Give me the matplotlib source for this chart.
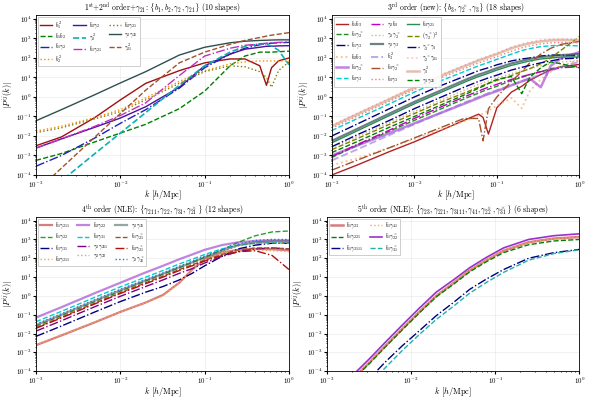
import numpy as np
import matplotlib
matplotlib.use("Agg")
import matplotlib.pyplot as plt

plt.rcParams["font.family"] = "serif"
plt.rcParams["font.serif"] = ["cmr10", "DejaVu Serif"]
plt.rcParams["mathtext.fontset"] = "cm"
plt.rcParams["axes.formatter.use_mathtext"] = True
plt.rcParams["axes.unicode_minus"] = False

# ---- panel 1: 1st+2nd order + gamma_21 (log10 |P|) ----
k1 = [0.001, 0.002, 0.005, 0.01, 0.02, 0.05, 0.1, 0.2, 0.3, 0.45, 0.54, 0.62, 0.75, 1.0]
labels1 = [r"$b_1^2$", r"$b_1 b_2$", r"$b_1\gamma_2$", r"$b_2^2$", r"$b_2\gamma_2$",
           r"$\gamma_2^2$", r"$b_1\gamma_{21}$", r"$b_2\gamma_{21}$", r"$\gamma_2\gamma_{21}$",
           r"$\gamma_{21}^2$"]
logP1 = [
    [-2.5, -2.05, -1.05, -0.15, 0.7, 1.35, 1.75, 1.95, 1.95, 1.6, 0.6, 1.5, 1.85, 2.0],
    [-3.25, -2.9, -2.3, -1.85, -1.4, -0.6, 0.3, 1.6, 2.1, 2.3, 2.3, 2.3, 2.32, 2.35],
    [-3.55, -3.0, -2.1, -1.35, -0.65, 0.45, 1.5, 2.2, 2.5, 2.68, 2.73, 2.76, 2.78, 2.8],
    [-1.75, -1.5, -1.05, -0.65, -0.05, 0.8, 1.35, 1.7, 1.8, 1.85, 1.85, 1.85, 1.85, 1.85],
    [-2.62, -2.15, -1.55, -1.08, -0.5, 0.5, 1.6, 2.2, 2.45, 2.55, 2.6, 2.6, 2.62, 2.63],
    [-5.3, -4.3, -2.9, -1.85, -0.8, 0.6, 1.6, 2.3, 2.6, 2.72, 2.7, 2.62, 2.4, 1.65],
    [-2.62, -2.15, -1.5, -0.95, -0.3, 1.1, 2.1, 2.5, 2.65, 2.72, 2.76, 2.78, 2.8, 2.83],
    [-1.83, -1.58, -1.12, -0.75, -0.15, 0.7, 1.3, 1.6, 1.55, 1.3, 1.0, 0.5, 1.35, 1.8],
    [-1.22, -0.65, 0.12, 0.72, 1.3, 2.15, 2.55, 2.78, 2.86, 2.9, 2.91, 2.92, 2.93, 2.93],
    [-4.85, -3.65, -2.05, -0.85, 0.35, 1.75, 2.3, 2.7, 2.9, 3.05, 3.12, 3.17, 3.22, 3.3],
]
styles1 = [("#a01010", "-", 1.0, 1), ("green", "--", 1.0, 1), ("#2020c0", "-.", 1.0, 1),
           ("darkorange", ":", 1.0, 1), ("#4b10a0", "-", 1.0, 1), ("#10b0b0", "--", 1.2, 1),
           ("#c030c0", "-.", 1.0, 1), ("olive", ":", 1.0, 1), ("darkslategray", "-", 1.0, 1),
           ("sienna", "--", 1.0, 1)]

# ---- panel 2: 3rd order (new) ----
k2 = [0.001, 0.002, 0.005, 0.01, 0.02, 0.04, 0.06, 0.068, 0.079, 0.1, 0.15, 0.2,
      0.25, 0.34, 0.45, 0.6, 1.0]
labels2 = [r"$b_1 b_3$", r"$b_1\gamma_2^\times$", r"$b_1\gamma_3$", r"$b_2 b_3$",
           r"$b_2\gamma_2^\times$", r"$b_2\gamma_3$", r"$\gamma_2 b_3$",
           r"$\gamma_2\gamma_2^\times$", r"$\gamma_2\gamma_3$", r"$b_3^2$",
           r"$b_3\gamma_2^\times$", r"$b_3\gamma_3$", r"$b_3\gamma_{21}$",
           r"$(\gamma_2^\times)^2$", r"$\gamma_2^\times\gamma_3$", r"$\gamma_2^\times\gamma_{21}$",
           r"$\gamma_3^2$", r"$\gamma_3\gamma_{21}$"]
logP2 = [
    [-4.0, -3.5, -2.8, -2.3, -1.75, -1.2, -0.88, -1.05, -1.9, -0.55, 0.25, 0.55, 0.85, 1.15, 1.4, 1.55, 1.67],
    [-3.1, -2.5, -1.75, -1.2, -0.65, -0.1, 0.2, 0.3, 0.4, 0.55, 0.85, 1.0, 1.15, 1.3, 1.45, 1.55, 1.6],
    [-2.0, -1.4, -0.6, 0.0, 0.55, 1.05, 1.35, 1.42, 1.5, 1.65, 1.85, 1.95, 2.0, 2.1, 2.15, 2.15, 2.1],
    [-3.5, -3.15, -2.6, -2.15, -1.7, -1.25, -0.95, -0.85, -0.7, -0.45, -0.05, -0.58, 0.3, 0.9, 1.3, 1.6, 1.9],
    [-3.0, -2.5, -1.85, -1.35, -0.85, -0.35, -0.05, 0.05, 0.15, 0.3, 0.6, 0.8, 0.95, 0.5, 1.6, 2.0, 2.3],
    [-1.72, -1.12, -0.35, 0.25, 0.8, 1.3, 1.6, 1.68, 1.78, 1.93, 2.2, 2.38, 2.48, 2.58, 2.63, 2.65, 2.62],
    [-3.05, -2.45, -1.7, -1.1, -0.55, 0.0, 0.3, 0.4, 0.5, 0.65, 0.9, 1.05, 1.15, 1.3, 1.4, 1.5, 1.55],
    [-2.6, -2.05, -1.3, -0.75, -0.2, 0.35, 0.65, 0.72, 0.82, 0.97, 1.2, 1.35, 1.45, 1.6, 1.7, 1.8, 1.85],
    [-2.25, -1.65, -0.85, -0.25, 0.3, 0.85, 1.15, 1.22, 1.32, 1.48, 1.72, 1.85, 1.95, 2.05, 2.1, 2.15, 2.2],
    [-3.25, -2.7, -1.95, -1.4, -0.85, -0.3, 0.0, 0.08, 0.2, 0.35, 0.6, 0.8, 0.95, 1.15, 1.35, 1.55, 1.8],
    [-3.75, -3.25, -2.6, -2.1, -1.6, -1.1, -1.1, -2.25, -0.6, 0.0, 0.8, 1.3, 1.75, 2.2, 2.5, 2.7, 2.85],
    [-1.6, -1.0, -0.22, 0.38, 0.95, 1.45, 1.75, 1.82, 1.92, 2.07, 2.35, 2.52, 2.62, 2.72, 2.78, 2.8, 2.78],
    [-2.35, -1.75, -0.95, -0.35, 0.2, 0.75, 1.05, 1.12, 1.22, 1.38, 1.62, 1.75, 1.85, 1.95, 2.0, 2.05, 2.05],
    [-2.7, -2.15, -1.4, -0.85, -0.3, 0.2, 0.5, 0.6, 0.7, 0.85, 1.1, 1.3, 1.45, 1.7, 2.0, 2.4, 3.1],
    [-2.55, -1.95, -1.2, -0.6, -0.05, 0.5, 0.8, 0.88, 0.98, 1.12, 1.38, 1.52, 1.62, 1.75, 1.85, 1.95, 2.0],
    [-1.45, -0.85, -0.07, 0.53, 1.1, 1.62, 1.92, 2.0, 2.1, 2.25, 2.55, 2.72, 2.82, 2.92, 2.98, 3.0, 2.95],
    [-1.5, -0.9, -0.12, 0.48, 1.05, 1.57, 1.87, 1.95, 2.05, 2.2, 2.5, 2.65, 2.75, 2.85, 2.9, 2.92, 2.9],
    [-2.85, -2.3, -1.55, -1.0, -0.45, 0.1, 0.45, 0.55, 0.7, 0.9, 1.05, 0.17, 1.0, 1.5, 1.8, 1.7, 1.5],
]
styles2 = [("firebrick", "-", 1.0, 1), ("forestgreen", "--", 1.0, 1), ("navy", "-.", 1.0, 1),
           ("sandybrown", ":", 1.3, 0.7), ("darkorchid", "-", 1.8, 0.6), ("darkturquoise", "--", 1.0, 1),
           ("m", "-.", 1.0, 1), ("tan", ":", 1.0, 1), ("darkslategray", "-", 1.6, 0.7),
           ("mediumpurple", "--", 1.4, 0.6), ("sienna", "-.", 1.0, 1), ("lightcoral", ":", 1.0, 1),
           ("seagreen", "-", 1.0, 1), ("olive", "--", 1.0, 1), ("darkblue", "-.", 1.0, 1),
           ("pink", ":", 1.2, 1), ("#c8825f", "-", 1.8, 0.5), ("green", "--", 1.0, 1)]

# ---- panel 3: 4th order (NLE) ----
k3 = [0.001, 0.002, 0.005, 0.01, 0.02, 0.032, 0.05, 0.071, 0.1, 0.16, 0.25, 0.4, 0.63, 1.0]
labels3 = [r"$b_1\gamma_{211}$", r"$b_1\gamma_{22}$", r"$b_1\gamma_{31}$", r"$b_2\gamma_{211}$",
           r"$b_2\gamma_{22}$", r"$b_2\gamma_{31}$", r"$\gamma_2\gamma_{211}$", r"$\gamma_2\gamma_{22}$",
           r"$\gamma_2\gamma_{31}$", r"$b_1\gamma_{21}^\times$", r"$b_2\gamma_{21}^\times$",
           r"$\gamma_2\gamma_{21}^\times$"]
logP3 = [
    [-2.62, -2.1, -1.4, -0.85, -0.35, 0.05, 0.7, 1.4, 1.95, 2.3, 2.45, 2.5, 2.48, 2.42],
    [-1.6, -1.05, -0.3, 0.25, 0.8, 1.15, 1.5, 1.78, 2.05, 2.45, 2.85, 3.2, 3.4, 3.45],
    [-2.15, -1.6, -0.85, -0.3, 0.2, 0.5, 0.85, 1.2, 1.6, 2.1, 2.5, 2.7, 2.8, 2.8],
    [-2.6, -2.08, -1.38, -0.85, -0.35, 0.0, 0.7, 1.4, 1.92, 2.28, 2.42, 2.45, 2.4, 2.35],
    [-1.15, -0.6, 0.15, 0.7, 1.25, 1.6, 1.95, 2.2, 2.45, 2.7, 2.85, 2.92, 2.95, 2.95],
    [-1.37, -0.82, -0.07, 0.48, 1.0, 1.35, 1.7, 1.95, 2.2, 2.5, 2.7, 2.8, 2.82, 2.8],
    [-1.87, -1.32, -0.57, -0.02, 0.5, 0.85, 1.2, 1.45, 1.75, 2.1, 2.35, 2.5, 2.55, 2.5],
    [-1.62, -1.07, -0.32, 0.23, 0.75, 1.1, 1.45, 1.72, 1.98, 2.35, 2.65, 2.8, 2.85, 2.85],
    [-1.55, -1.0, -0.25, 0.3, 0.82, 1.18, 1.52, 1.78, 2.05, 2.4, 2.7, 2.85, 2.9, 2.9],
    [-1.68, -1.13, -0.38, 0.17, 0.7, 1.05, 1.4, 1.65, 1.9, 2.2, 2.45, 2.55, 2.55, 2.5],
    [-1.72, -1.17, -0.42, 0.13, 0.65, 1.0, 1.35, 1.6, 1.85, 2.15, 2.35, 2.4, 2.15, 1.4],
    [-1.5, -0.95, -0.2, 0.35, 0.88, 1.22, 1.58, 1.85, 2.12, 2.45, 2.75, 2.95, 3.0, 3.0],
]
styles3 = [("indianred", "-", 1.6, 0.8), ("#2ca02c", "--", 1.0, 1), ("navy", "-.", 1.0, 1),
           ("sandybrown", ":", 1.0, 1), ("darkorchid", "-", 1.6, 0.6), ("darkturquoise", "--", 1.0, 1),
           ("purple", "-.", 1.0, 1), ("darkkhaki", ":", 1.0, 1), ("darkslategray", "-", 1.6, 0.5),
           ("sienna", "--", 1.0, 1), ("#b01010", "-.", 1.0, 1), ("royalblue", ":", 1.0, 1)]

# ---- panel 4: 5th order (NLE) ----
k4 = [0.001, 0.002, 0.0032, 0.005, 0.0079, 0.0126, 0.02, 0.032, 0.05, 0.079, 0.126, 0.25, 0.5, 1.0]
labels4 = [r"$b_1\gamma_{23}$", r"$b_1\gamma_{221}$", r"$b_1\gamma_{3111}$", r"$b_1\gamma_{41}$",
           r"$b_1\gamma_{22}^\times$", r"$b_1\gamma_{31}^\times$"]
logP4 = [
    [-5.8, -4.45, -3.55, -2.65, -1.75, -0.85, 0.0, 0.68, 1.35, 1.9, 2.4, 2.85, 3.05, 3.13],
    [-5.85, -4.5, -3.6, -2.7, -1.8, -0.9, -0.05, 0.62, 1.28, 1.82, 2.3, 2.72, 2.92, 3.0],
    [-6.5, -5.3, -4.4, -3.5, -2.65, -1.85, -1.05, -0.35, 0.35, 0.9, 1.4, 2.0, 2.3, 2.47],
    [-5.75, -4.4, -3.5, -2.6, -1.7, -0.8, 0.05, 0.72, 1.38, 1.92, 2.42, 2.85, 3.05, 3.12],
    [-5.6, -4.25, -3.35, -2.45, -1.55, -0.65, 0.2, 0.85, 1.5, 2.05, 2.55, 3.0, 3.2, 3.3],
    [-6.8, -5.6, -4.7, -3.8, -2.9, -2.05, -1.25, -0.55, 0.15, 0.72, 1.25, 1.9, 2.25, 2.45],
]
styles4 = [("indianred", "-", 1.8, 0.8), ("green", "--", 1.0, 1), ("navy", "-.", 1.0, 1),
           ("sandybrown", ":", 1.0, 1), ("darkorchid", "-", 1.2, 1), ("lightseagreen", "--", 1.0, 1)]

titles = [
    r"1$^{\rm st}$+2$^{\rm nd}$ order+$\gamma_{21}$: $\{b_1, b_2, \gamma_2, \gamma_{21}\}$ (10 shapes)",
    r"3$^{\rm rd}$ order (new): $\{b_3, \gamma_2^\times, \gamma_3\}$ (18 shapes)",
    r"4$^{\rm th}$ order (NLE): $\{\gamma_{211}, \gamma_{22}, \gamma_{31}, \gamma_{21}^\times\}$ (12 shapes)",
    r"5$^{\rm th}$ order (NLE): $\{\gamma_{23}, \gamma_{221}, \gamma_{3111}, \gamma_{41}, "
    r"\gamma_{22}^\times, \gamma_{31}^\times\}$ (6 shapes)",
]

panels = [(k1, labels1, logP1, styles1, 3), (k2, labels2, logP2, styles2, 3),
          (k3, labels3, logP3, styles3, 3), (k4, labels4, logP4, styles4, 2)]
rects = [[0.06, 0.5625, 0.4217, 0.4], [0.553, 0.5625, 0.4127, 0.4],
         [0.06, 0.072, 0.4217, 0.386], [0.5445, 0.072, 0.421, 0.386]]

fig = plt.figure(figsize=(6, 4), dpi=100)
for (k, labels, logP, styles, ncol), rect, title in zip(panels, rects, titles):
    ax = fig.add_axes(rect)
    for lab, vals, (c, ls, lw, a) in zip(labels, logP, styles):
        ax.loglog(k, 10.0 ** np.array(vals), color=c, ls=ls, lw=lw, alpha=a, label=lab)
    ax.set_xlim(1e-3, 1.0)
    ax.set_ylim(1e-4, 1.6e4)
    ax.set_title(title, fontsize=5.5, pad=1.5)
    ax.set_xlabel(r"$k$ [$h$/Mpc]", fontsize=6, labelpad=-0.5)
    ax.set_ylabel(r"$|P^{ij}(k)|$", fontsize=6, labelpad=1)
    ax.tick_params(labelsize=5, length=2, pad=1.2)
    ax.tick_params(which="minor", length=1)
    ax.grid(True, which="major", lw=0.4, alpha=0.3)
    for s in ax.spines.values():
        s.set_linewidth(0.6)
    leg = ax.legend(loc="upper left", ncol=ncol, fontsize=4, frameon=True, framealpha=0.9,
                    handlelength=2.2, columnspacing=1.2, labelspacing=0.12, borderpad=0.3,
                    handletextpad=0.6, edgecolor="0.7", fancybox=False, borderaxespad=0.4)
    leg.get_frame().set_linewidth(0.5)

fig.savefig("out.png", dpi=100)
